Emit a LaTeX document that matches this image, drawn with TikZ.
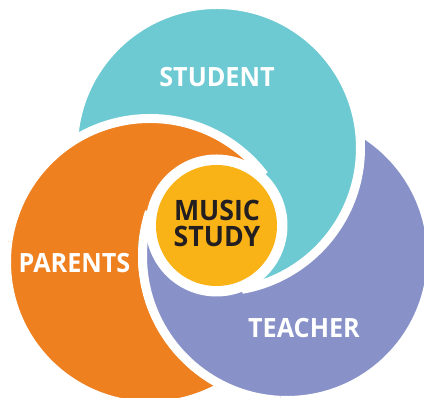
\documentclass[tikz,border=0pt]{standalone}
\usepackage{fontspec}
\setmainfont{Open Sans}[FakeStretch=0.95]
\definecolor{cteal}{HTML}{6DCAD2}
\definecolor{corange}{HTML}{EE8020}
\definecolor{cpurple}{HTML}{8892C8}
\definecolor{cyellow}{HTML}{FAB317}
\definecolor{cdark}{HTML}{231F20}
\begin{document}
\begin{tikzpicture}[x=0.02cm,y=0.02cm,
  disc/.style={fill=#1, draw=white, line width=0.18cm},
  biglabel/.style={text=white, font=\fontsize{15.1}{18}\selectfont\bfseries, inner sep=0pt},
  centerlabel/.style={text=cdark, font=\fontsize{16}{15.1}\selectfont\bfseries, align=center, inner sep=0pt}]
\useasboundingbox (0,0) rectangle (424,398);
% circle centres
\coordinate (tc) at (217,250);
\coordinate (oc) at (150,136);
\coordinate (pc) at (287,142);
\coordinate (mc) at (216.5,172.5);
% base layering: orange < purple < teal
\draw[disc=corange] (oc) circle (143.5);
\draw[disc=cpurple] (pc) circle (144.5);
\draw[disc=cteal] (tc) circle (143.5);
% left wedge: orange over teal (outside purple)
\begin{scope}[even odd rule]
  \clip (217,175) -- (-900,372) -- (-900,-900) -- (608,-900) -- cycle;
  \clip (-1000,-1000) rectangle (1500,1500) (pc) circle (149);
  \draw[disc=corange] (oc) circle (143.5);
\end{scope}
% top wedge: orange over everything
\begin{scope}
  \clip (217,175) -- (1200,1158) -- (1200,1400) -- (-900,1400) -- (-900,77) -- cycle;
  \draw[disc=corange] (oc) circle (143.5);
\end{scope}
% left wedge: purple over teal and orange
\begin{scope}
  \clip (217,175) -- (-900,372) -- (-900,-900) -- (608,-900) -- cycle;
  \draw[disc=cpurple] (pc) circle (144.5);
\end{scope}
% centre
\fill[white] (mc) circle (71);
\node[circle, fill=cyellow, minimum size=121*0.02cm, inner sep=0pt] (music) at (mc) {};
% labels
\node[biglabel] (student) at (217,320.5) {STUDENT};
\node[biglabel] (parents) at (74.5,135) {PARENTS};
\node[biglabel] (teacher) at (304,70) {TEACHER};
\node[centerlabel] (musiclabel) at (217,174.5) {MUSIC\\STUDY};
\end{tikzpicture}
\end{document}
